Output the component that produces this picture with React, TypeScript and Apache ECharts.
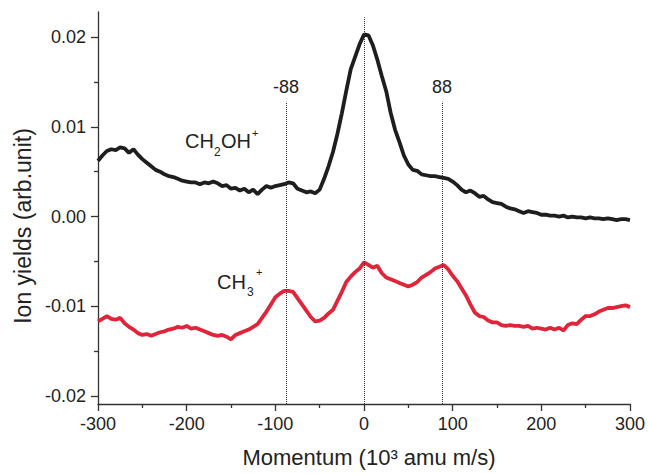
import React, { useEffect, useRef } from "react";
import * as echarts from "echarts";

const momentum = [
  -300, -295, -290, -285, -280, -275, -270, -265, -260, -255, -250, -245, -240, -235, -230, -225, -220, -215, -210, -205,
  -200, -195, -190, -185, -180, -175, -170, -165, -160, -155, -150, -145, -140, -135, -130, -125, -120, -115, -110, -105,
  -100, -95, -90, -85, -80, -75, -70, -65, -60, -55, -50, -45, -40, -35, -30, -25, -20, -15, -10, -5,
  0, 5, 10, 15, 20, 25, 30, 35, 40, 45, 50, 55, 60, 65, 70, 75, 80, 85, 90, 95,
  100, 105, 110, 115, 120, 125, 130, 135, 140, 145, 150, 155, 160, 165, 170, 175, 180, 185, 190, 195,
  200, 205, 210, 215, 220, 225, 230, 235, 240, 245, 250, 255, 260, 265, 270, 275, 280, 285, 290, 295, 300,
];

const ch2ohYield = [
  0.0062, 0.0068, 0.0073, 0.0075, 0.0074, 0.0077, 0.0076, 0.0071, 0.0075, 0.0069, 0.0064, 0.006, 0.0056, 0.0052, 0.005, 0.0047, 0.0045, 0.0044, 0.0042, 0.004,
  0.0039, 0.0038, 0.0038, 0.0036, 0.0038, 0.0037, 0.0039, 0.0037, 0.0034, 0.0035, 0.0031, 0.0032, 0.0029, 0.0031, 0.0027, 0.003, 0.0025, 0.003, 0.0034, 0.0032,
  0.0034, 0.0035, 0.0036, 0.0038, 0.0037, 0.0031, 0.0029, 0.0027, 0.0028, 0.0026, 0.003, 0.0042, 0.0056, 0.0072, 0.0092, 0.0115, 0.014, 0.0164, 0.0178, 0.0192,
  0.0203, 0.0202, 0.0191, 0.0175, 0.0157, 0.014, 0.0116, 0.0097, 0.0083, 0.0068, 0.0058, 0.0052, 0.0051, 0.0047, 0.0046, 0.0045, 0.0045, 0.0044, 0.0043, 0.0042,
  0.0039, 0.0035, 0.003, 0.0027, 0.0029, 0.0026, 0.0022, 0.0023, 0.0019, 0.0016, 0.0015, 0.0014, 0.0011, 0.0009, 0.0008, 0.0006, 0.0004, 0.0006, 0.0005, 0.0004,
  0.0002, 0.0002, 0.0001, 0.0001, 0.0, 0.0001, -0.0001, 0.0, -0.0001, -0.0001, -0.0002, -0.0001, -0.0002, -0.0002, -0.0003, -0.0002, -0.0003, -0.0004, -0.0003, -0.0003, -0.0004,
];

const ch3Yield = [
  -0.0117, -0.0114, -0.0111, -0.0114, -0.0115, -0.0113, -0.0119, -0.0123, -0.0126, -0.013, -0.0132, -0.0131, -0.0133, -0.0131, -0.0129, -0.0128, -0.0126, -0.0125, -0.0123, -0.0124,
  -0.0122, -0.0125, -0.0124, -0.0126, -0.0128, -0.013, -0.0132, -0.0133, -0.0132, -0.0134, -0.0137, -0.0132, -0.013, -0.0128, -0.0126, -0.0123, -0.012, -0.0113, -0.0106, -0.0098,
  -0.009, -0.0086, -0.0083, -0.0083, -0.0084, -0.0091, -0.0098, -0.0105, -0.0112, -0.0117, -0.0116, -0.0113, -0.0108, -0.0104, -0.0094, -0.0084, -0.0073, -0.0067, -0.0062, -0.0058,
  -0.0051, -0.0054, -0.0057, -0.0055, -0.0063, -0.0068, -0.007, -0.0072, -0.0074, -0.0076, -0.0078, -0.0076, -0.0073, -0.0068, -0.0065, -0.0062, -0.0058, -0.0056, -0.0054, -0.0059,
  -0.0066, -0.0072, -0.008, -0.0088, -0.0098, -0.0107, -0.0111, -0.0112, -0.0116, -0.0118, -0.0118, -0.0121, -0.0122, -0.0121, -0.0122, -0.0122, -0.0123, -0.0122, -0.0125, -0.0124,
  -0.0125, -0.0126, -0.0124, -0.0126, -0.0124, -0.0127, -0.0121, -0.0119, -0.012, -0.0115, -0.0111, -0.0111, -0.0109, -0.0106, -0.0104, -0.0102, -0.0102, -0.0101, -0.01, -0.0099, -0.0101,
];

const yTickValues = [-0.02, -0.01, 0, 0.01, 0.02];
const yMinorTickValues = [-0.015, -0.005, 0.005, 0.015];
const markerPositions = [-88, 0, 88];
const markerLabels = ["-88", "", "88"];
const markerTops = [0.0128, 0.0222, 0.0128];

const Y_MIN = -0.0209;
const Y_MAX = 0.0228;
const FONT = "'Liberation Sans', Arial, sans-serif";
const TEXT = "#222";
const AXIS = "#333";

export default function App() {
  const ref = useRef<HTMLDivElement>(null);

  useEffect(() => {
    if (!ref.current) return;
    const chart = echarts.init(ref.current, undefined, { renderer: "svg" });

    const blackData = momentum.map((x, i) => [x, ch2ohYield[i]]);
    const redData = momentum.map((x, i) => [x, ch3Yield[i]]);

    const markLineData = markerPositions.map((x, i) => [
      { name: markerLabels[i], coord: [x, Y_MIN] },
      { coord: [x, markerTops[i]] },
    ]);

    const option: any = {
      animation: false,
      backgroundColor: "#fff",
      textStyle: { fontFamily: FONT },
      grid: { left: 98, right: 14, top: 12, bottom: 70 },
      xAxis: {
        type: "value",
        min: -300,
        max: 300,
        interval: 100,
        name: "Momentum (10³ amu m/s)",
        nameLocation: "middle",
        nameGap: 42,
        nameTextStyle: { fontSize: 22, color: TEXT, fontFamily: FONT, padding: [0, 0, 0, 10] },
        axisLine: { show: true, onZero: false, lineStyle: { color: AXIS, width: 1.3 } },
        axisTick: { show: true, length: 7, lineStyle: { color: AXIS, width: 1.3 } },
        minorTick: { show: true, splitNumber: 2, length: 4, lineStyle: { color: AXIS, width: 1.3 } },
        axisLabel: { fontSize: 18, color: TEXT, margin: 11, fontFamily: FONT },
        splitLine: { show: false },
      },
      yAxis: [
        {
          type: "value",
          min: Y_MIN,
          max: Y_MAX,
          position: "left",
          axisLine: { show: true, onZero: false, lineStyle: { color: AXIS, width: 1.3 } },
          axisTick: { show: true, length: 7, customValues: yTickValues, lineStyle: { color: AXIS, width: 1.3 } },
          axisLabel: {
            customValues: yTickValues,
            fontSize: 18,
            color: TEXT,
            margin: 12,
            fontFamily: FONT,
            formatter: (v: number) => v.toFixed(2),
          },
          splitLine: { show: false },
        },
        {
          type: "value",
          min: Y_MIN,
          max: Y_MAX,
          position: "left",
          axisLine: { show: false, onZero: false },
          axisTick: { show: true, length: 4, customValues: yMinorTickValues, lineStyle: { color: AXIS, width: 1.3 } },
          axisLabel: { show: false },
          splitLine: { show: false },
        },
      ],
      series: [
        {
          name: "CH2OH+",
          type: "line",
          data: blackData,
          showSymbol: false,
          symbol: "none",
          lineStyle: { color: "#1e1e1e", width: 3.8 },
          z: 3,
          markLine: {
            silent: true,
            symbol: "none",
            lineStyle: { color: "#333", width: 1, type: "dotted" },
            label: {
              show: true,
              position: "end",
              distance: 6,
              fontSize: 18,
              color: TEXT,
              fontFamily: FONT,
              formatter: (p: any) => p.name,
            },
            data: markLineData,
          },
        },
        {
          name: "CH3+",
          type: "line",
          data: redData,
          showSymbol: false,
          symbol: "none",
          lineStyle: { color: "#e0243a", width: 3.8 },
          z: 3,
        },
      ],
      graphic: [
        {
          type: "text",
          x: 23,
          y: 226,
          rotation: Math.PI / 2,
          style: {
            text: "Ion yields (arb.unit)",
            fontSize: 23,
            fill: TEXT,
            fontFamily: FONT,
            align: "center",
            verticalAlign: "middle",
          },
        },
        { type: "text", left: 185, top: 131, style: { text: "CH", fontSize: 20, fill: TEXT, fontFamily: FONT } },
        { type: "text", left: 214, top: 146, style: { text: "2", fontSize: 12, fill: TEXT, fontFamily: FONT } },
        { type: "text", left: 221, top: 131, style: { text: "OH", fontSize: 20, fill: TEXT, fontFamily: FONT } },
        { type: "text", left: 252, top: 127, style: { text: "+", fontSize: 11, fill: TEXT, fontFamily: FONT } },
        { type: "text", left: 217, top: 272, style: { text: "CH", fontSize: 20, fill: TEXT, fontFamily: FONT } },
        { type: "text", left: 247, top: 286, style: { text: "3", fontSize: 12, fill: TEXT, fontFamily: FONT } },
        { type: "text", left: 256, top: 266, style: { text: "+", fontSize: 11, fill: TEXT, fontFamily: FONT } },
      ],
    };

    chart.setOption(option);
    return () => chart.dispose();
  }, []);

  return (
    <div
      ref={ref}
      style={{ position: "fixed", left: 0, top: 0, width: 648, height: 474, background: "#fff" }}
    />
  );
}
